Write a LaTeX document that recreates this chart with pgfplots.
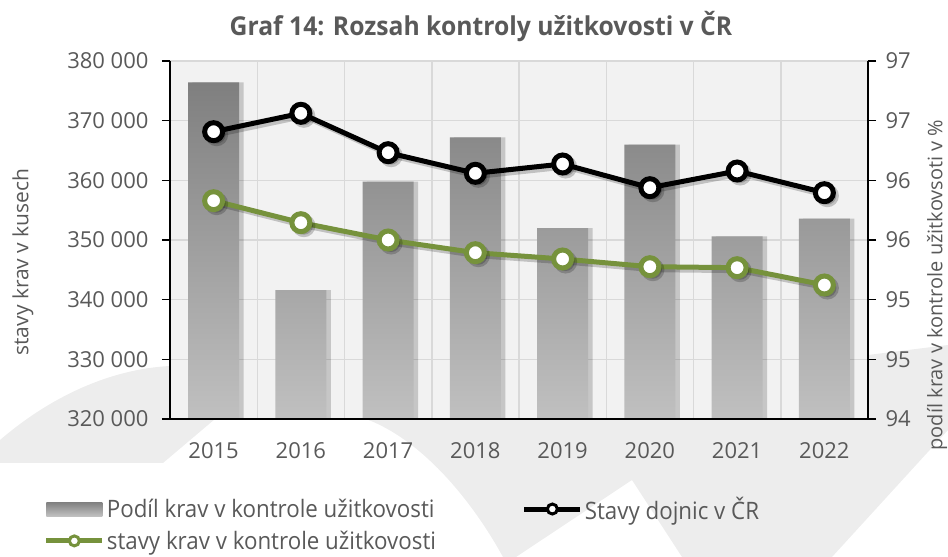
\documentclass[border=0pt]{standalone}
\usepackage{pgfplots}
\usepackage{pgfplotstable}
\pgfplotsset{compat=1.18}
\usepackage{fontspec}
\setmainfont{Open Sans}
\newfontfamily\condfont{Open Sans}[FakeStretch=0.93]
\newfontfamily\titfont{Open Sans}[FakeStretch=0.95]
\definecolor{txt}{HTML}{595959}
\definecolor{grn}{HTML}{76923C}
\definecolor{gridc}{HTML}{D9D9D9}
\definecolor{bgc}{HTML}{F2F2F2}
\definecolor{sw}{HTML}{EDEDED}
\definecolor{bartop}{HTML}{7F7F7F}
\definecolor{barbot}{HTML}{C0C0C0}

\pgfplotstableread{
x dojnice kontrola podil
0 368150 356590 96.82
1 371235 352900 95.08
2 364630 350000 95.99
3 361180 347870 96.36
4 362740 346815 95.60
5 358765 345525 96.30
6 361560 345360 95.53
7 357930 342460 95.68
}\data

\begin{document}
\begin{tikzpicture}[x=1pt,y=1pt]
\useasboundingbox (0,0) rectangle (948,557);
% decorative background
\fill[sw] (0,94) -- (0,117) .. controls (50,160) and (110,188) .. (170,191) -- (240,191) -- (215,138) -- (163,94) -- cycle;
\fill[sw] (366,138) .. controls (420,118) and (470,60) .. (503,0) -- (516,0) -- (632,77) -- (682,0) -- (832,0) -- (948,127) -- (948,212) -- (868,202) -- (868,138) -- cycle;

% title and axis titles
\node[font=\titfont\bfseries\fontsize{26}{30}\selectfont, text=txt, anchor=base] at (481,521) {Graf 14: Rozsah kontroly užitkovosti v ČR};
\node[font=\fontsize{21}{24}\selectfont, text=txt, rotate=90] at (23,295) {stavy krav v kusech};
\node[font=\fontsize{20}{24}\selectfont, text=txt, rotate=90] at (937,272) {podíl krav v kontrole užitkovsoti v \%};

% right axis: bars
\begin{axis}[
  at={(170pt,138pt)}, anchor=south west, scale only axis,
  width=698pt, height=358pt,
  xmin=-0.5, xmax=7.5, ymin=94, ymax=97,
  y coord trafo/.code={\pgfmathparse{#1-94}},
  y coord inv trafo/.code={\pgfmathparse{#1+94}},
  axis background/.style={fill=bgc},
  axis x line*=bottom, axis y line*=right,
  x axis line style={draw=none},
  y axis line style={line width=2pt, black},
  xtick={-0.5,0.5,...,7.5}, xticklabels={}, xtick style={draw=none},
  ytick={94,94.5,...,97}, yticklabels={94,95,95,96,96,97,97},
  ytick style={line width=1.5pt, black},
  tick align=outside, major tick length=8pt,
  yticklabel style={font=\fontsize{22}{26}\selectfont, text=txt, xshift=6pt},
  xmajorgrids, ymajorgrids, grid style={gridc, line width=1.5pt},
]
\addplot[ybar, bar width=0.585, bar shift=0.05, draw=none, fill=black, fill opacity=0.18, forget plot] table[x=x, y=podil]{\data};
\addplot[ybar, bar width=0.585, bar shift=0, draw=none, top color=bartop, bottom color=barbot, forget plot] table[x=x, y=podil]{\data};
\end{axis}

% left axis: lines
\begin{axis}[
  at={(170pt,138pt)}, anchor=south west, scale only axis,
  width=698pt, height=358pt,
  xmin=-0.5, xmax=7.5, ymin=320000, ymax=380000,
  scaled y ticks=false,
  axis x line*=bottom, axis y line*=left,
  axis line style={line width=2pt, black},
  xtick={0,...,7}, xticklabels={2015,2016,2017,2018,2019,2020,2021,2022},
  xtick style={draw=none},
  ytick={320000,330000,...,380000},
  yticklabels={320 000,330 000,340 000,350 000,360 000,370 000,380 000},
  ytick style={line width=1.5pt, black},
  tick align=outside, major tick length=8pt,
  yticklabel style={font=\fontsize{22}{26}\selectfont, text=txt, xshift=-10pt},
  xticklabel style={font=\fontsize{22}{26}\selectfont, text=txt, yshift=-12pt},
  legend image code/.code={\draw[mark repeat=2, mark phase=2, #1] plot coordinates {(0pt,0pt) (28pt,0pt) (56pt,0pt)};},
  legend cell align=left,
  legend columns=2,
  legend style={at={(-0.181,-0.212)}, anchor=north west, draw=none, fill=none, inner sep=0pt,
    font=\condfont\fontsize{24}{28}\selectfont, text=txt, row sep=6pt,
    /tikz/every odd column/.append style={column sep=0pt},
    /tikz/every even column/.append style={column sep=83pt}},
]
\addlegendimage{legend image code/.code={\path[draw=none, top color=bartop, bottom color=barbot] (0pt,-7pt) rectangle (56pt,7pt);}}
\addlegendentry{\makebox[330pt][l]{Podíl krav v kontrole užitkovosti}}
\addlegendimage{black, line width=5pt, mark=*, mark size=5pt, mark options={fill=white, line width=3pt}}
\addlegendentry{Stavy dojnic v ČR}
\addlegendimage{grn, line width=5pt, mark=*, mark size=5pt, mark options={fill=white, line width=3pt}}
\addlegendentry{\makebox[330pt][l]{stavy krav v kontrole užitkovosti}}

\addplot[black, opacity=0.2, line width=5pt, xshift=3pt, yshift=-3pt, mark=*, mark size=9pt, mark options={line width=5pt}, forget plot] table[x=x, y=dojnice]{\data};
\addplot[black, line width=5pt, mark=*, mark size=9pt, mark options={fill=white, line width=5pt}, forget plot] table[x=x, y=dojnice]{\data};
\addplot[black, opacity=0.2, line width=5pt, xshift=3pt, yshift=-3pt, mark=*, mark size=9pt, mark options={line width=5pt}, forget plot] table[x=x, y=kontrola]{\data};
\addplot[grn, line width=5pt, mark=*, mark size=9pt, mark options={fill=white, line width=5pt}, forget plot] table[x=x, y=kontrola]{\data};
\end{axis}
\end{tikzpicture}
\end{document}
